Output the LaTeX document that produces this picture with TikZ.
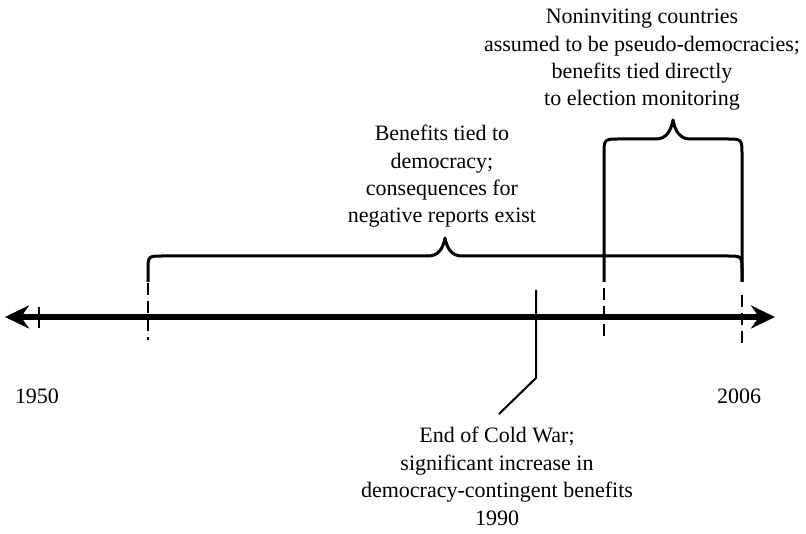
\documentclass[tikz,border=0pt]{standalone}
\usepackage{fontspec}
\setmainfont{Liberation Serif}
\usetikzlibrary{arrows.meta}
\begin{document}
\begin{tikzpicture}[x=1pt,y=-1pt,
  lbl/.style={align=center, inner sep=0pt, font=\fontsize{22}{27.4}\selectfont},
  axisline/.style={line width=6pt, {Stealth[length=24pt,width=23pt,inset=8pt]}-{Stealth[length=24pt,width=23pt,inset=8pt]}},
  bracepath/.style={line width=3pt, line join=round},
  dashline/.style={line width=2pt, dash pattern=on 12pt off 6pt},
  marker/.style={line width=2pt}]
\useasboundingbox (0,0) rectangle (806,534);
% axis
\coordinate (L) at (5,317);
\coordinate (R) at (775,317);
\draw[axisline] (L) -- (R);
% tick at 1950
\coordinate (t1) at (39,307);
\coordinate (t2) at (39,328);
\draw[marker] (t1) -- (t2);
% dashed markers
\coordinate (d1a) at (148,283); \coordinate (d1b) at (148,340);
\coordinate (d2a) at (604,288); \coordinate (d2b) at (604,338);
\coordinate (d3a) at (742,295); \coordinate (d3b) at (742,343);
\draw[dashline] (d1a) -- (d1b);
\draw[dashline] (d2a) -- (d2b);
\draw[dashline] (d3a) -- (d3b);
% cold war marker
\coordinate (cw1) at (536,290);
\coordinate (cw2) at (536,378);
\coordinate (cw3) at (499,414);
\draw[marker] (cw1) -- (cw2) -- (cw3);
% big brace
\coordinate (b1s) at (148,282);
\coordinate (b1t) at (445,238);
\coordinate (b1e) at (742,282);
\draw[bracepath] (b1s) -- (148,271) .. controls (148,256) .. (163,256) -- (428,256)
  .. controls (438,256) and (443,249) .. (b1t)
  .. controls (447,249) and (452,256) .. (462,256) -- (727,256)
  .. controls (742,256) .. (742,271) -- (b1e);
% small brace
\coordinate (b2s) at (604,282);
\coordinate (b2t) at (673,120);
\coordinate (b2e) at (742,282);
\draw[bracepath] (b2s) -- (604,155) .. controls (604,139) .. (620,139) -- (656,139)
  .. controls (666,139) and (671,131) .. (b2t)
  .. controls (675,131) and (680,139) .. (690,139) -- (726,139)
  .. controls (742,139) .. (742,155) -- (b2e);
% labels (anchor=base is the baseline of the last line)
\node[lbl, anchor=base] (toplbl) at (642,106) {Noninviting countries\\assumed to be pseudo-democracies;\\benefits tied directly\\to election monitoring};
\node[lbl, anchor=base] (midlbl) at (442,223) {Benefits tied to\\democracy;\\consequences for\\negative reports exist};
\node[lbl, anchor=base] (botlbl) at (497,525) {End of Cold War;\\significant increase in\\democracy-contingent benefits\\1990};
\node[lbl, anchor=base] (y1950) at (37,403) {1950};
\node[lbl, anchor=base] (y2006) at (739,403) {2006};
\end{tikzpicture}
\end{document}
